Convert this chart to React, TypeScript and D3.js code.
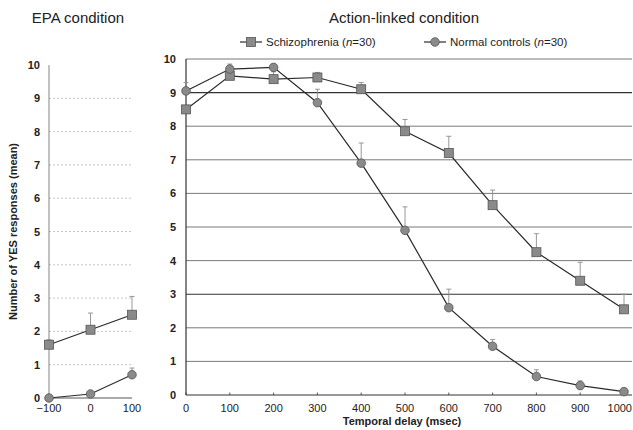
import React from "react";
import * as d3 from "d3";

// EPA condition (left panel)
const epaDelays = [-100, 0, 100];
const epaSchizo = [1.6, 2.05, 2.5];
const epaSchizoErr = [1.75, 2.55, 3.05];
const epaNormal = [0, 0.12, 0.7];
const epaNormalErr = [0.05, 0.2, 0.9];

// Action-linked condition (right panel)
const delays = [0, 100, 200, 300, 400, 500, 600, 700, 800, 900, 1000];
const schizo = [8.5, 9.5, 9.4, 9.45, 9.1, 7.85, 7.2, 5.65, 4.25, 3.4, 2.55];
const schizoErr = [8.6, 9.7, 9.62, 9.6, 9.3, 8.2, 7.7, 6.1, 4.8, 3.95, 3.0];
const normal = [9.05, 9.7, 9.75, 8.7, 6.9, 4.9, 2.6, 1.45, 0.55, 0.28, 0.1];
const normalErr = [9.3, 9.85, 9.82, 9.1, 7.5, 5.6, 3.15, 1.65, 0.75, 0.42, 0.15];

const yTicks = [0, 1, 2, 3, 4, 5, 6, 7, 8, 9, 10];

const font = "'Liberation Sans', Arial, sans-serif";
const lineCol = "#2a2a2a";
const markFill = "#8a8a8a";

const Square = ({ x, y }: { x: number; y: number }) => (
  <rect x={x - 4.5} y={y - 4.5} width={9} height={9} fill={markFill} stroke="#555" strokeWidth={0.8} />
);
const Dot = ({ x, y }: { x: number; y: number }) => (
  <circle cx={x} cy={y} r={4.3} fill={markFill} stroke="#555" strokeWidth={0.8} />
);

const ErrBar = ({ x, y0, y1 }: { x: number; y0: number; y1: number }) => (
  <g stroke="#8c8c8c" strokeWidth={0.9}>
    <line x1={x} x2={x} y1={y0} y2={y1} />
    <line x1={x - 2.5} x2={x + 2.5} y1={y1} y2={y1} />
  </g>
);

export default function App() {
  // left panel scales
  const lx = d3.scaleLinear().domain([-100, 100]).range([49, 132]);
  const ly = d3.scaleLinear().domain([0, 10]).range([398, 65]);
  // right panel scales
  const rx = d3.scaleLinear().domain([0, 1000]).range([186, 624]);
  const ry = d3.scaleLinear().domain([0, 10]).range([395, 59]);

  const lLine = (vals: number[]) =>
    d3.line<number>().x((_, i) => lx(epaDelays[i])).y((d) => ly(d))(vals) || "";
  const rLine = (vals: number[]) =>
    d3.line<number>().x((_, i) => rx(delays[i])).y((d) => ry(d))(vals) || "";

  return (
    <svg width={633} height={430} style={{ position: "absolute", left: 0, top: 0, background: "#fff" }} fontFamily={font}>
      {/* titles */}
      <text x={78} y={23} textAnchor="middle" fontSize={15} fill="#222">EPA condition</text>
      <text x={404} y={23} textAnchor="middle" fontSize={15} fill="#222">Action-linked condition</text>

      {/* legend */}
      <g>
        <line x1={240} x2={262} y1={42} y2={42} stroke={lineCol} strokeWidth={1.2} />
        <Square x={251} y={42} />
        <text x={266} y={46} fontSize={11.5} fill="#222">
          Schizophrenia (<tspan fontStyle="italic">n</tspan>=30)
        </text>
        <line x1={424} x2={446} y1={42} y2={42} stroke={lineCol} strokeWidth={1.2} />
        <Dot x={435} y={42} />
        <text x={450} y={46} fontSize={11.5} fill="#222">
          Normal controls (<tspan fontStyle="italic">n</tspan>=30)
        </text>
      </g>

      {/* y axis label */}
      <text
        transform={`translate(17,${ly(5)}) rotate(-90)`}
        textAnchor="middle"
        fontSize={11}
        fontWeight="bold"
        fill="#222"
      >
        Number of YES responses (mean)
      </text>

      {/* LEFT PANEL */}
      <g>
        {yTicks.slice(1, 10).map((t) => (
          <line key={t} x1={lx(-100)} x2={lx(100)} y1={ly(t)} y2={ly(t)} stroke="#b5b5b5" strokeWidth={0.8} strokeDasharray="2,2" />
        ))}
        <line x1={lx(-100)} x2={lx(-100)} y1={ly(0)} y2={ly(10)} stroke="#777" strokeWidth={0.9} />
        <line x1={lx(-100)} x2={lx(100)} y1={ly(0)} y2={ly(0)} stroke="#555" strokeWidth={1} />
        {yTicks.map((t) => (
          <text key={t} x={lx(-100) - 9} y={ly(t) + 4} textAnchor="end" fontSize={11} fontWeight="bold" fill="#222">{t}</text>
        ))}
        {epaDelays.map((d) => (
          <text key={d} x={lx(d)} y={412} textAnchor="middle" fontSize={11} fill="#222">{d === -100 ? "\u2212100" : d}</text>
        ))}
        {epaDelays.map((d, i) => (
          <ErrBar key={"se" + d} x={lx(d)} y0={ly(epaSchizo[i])} y1={ly(epaSchizoErr[i])} />
        ))}
        {epaDelays.map((d, i) => (
          <ErrBar key={"ne" + d} x={lx(d)} y0={ly(epaNormal[i])} y1={ly(epaNormalErr[i])} />
        ))}
        <path d={lLine(epaSchizo)} fill="none" stroke={lineCol} strokeWidth={1.2} />
        <path d={lLine(epaNormal)} fill="none" stroke={lineCol} strokeWidth={1.2} />
        {epaDelays.map((d, i) => <Square key={"s" + d} x={lx(d)} y={ly(epaSchizo[i])} />)}
        {epaDelays.map((d, i) => <Dot key={"n" + d} x={lx(d)} y={ly(epaNormal[i])} />)}
      </g>

      {/* RIGHT PANEL */}
      <g>
        {yTicks.slice(1).map((t) => (
          <line key={t} x1={rx(0)} x2={rx(1000) + 8} y1={ry(t)} y2={ry(t)} stroke={t === 9 || t === 3 ? "#333" : "#6a6a6a"} strokeWidth={t === 9 || t === 3 ? 1.1 : 0.9} />
        ))}
        <line x1={rx(0)} x2={rx(0)} y1={ry(0)} y2={ry(10)} stroke="#333" strokeWidth={1.2} />
        <line x1={rx(0)} x2={rx(1000) + 8} y1={ry(0)} y2={ry(0)} stroke="#333" strokeWidth={1.1} />
        {delays.map((d) => (
          <line key={"t" + d} x1={rx(d)} x2={rx(d)} y1={ry(0)} y2={ry(0) - 2.5} stroke="#333" strokeWidth={0.8} />
        ))}
        {yTicks.map((t) => (
          <text key={t} x={rx(0) - 10} y={ry(t) + 4} textAnchor="end" fontSize={11} fontWeight="bold" fill="#222">{t}</text>
        ))}
        {delays.map((d) => (
          <text
            key={d}
            x={d === 1000 ? 632 : rx(d)}
            y={412}
            textAnchor={d === 1000 ? "end" : "middle"}
            fontSize={11}
            fill="#222"
          >
            {d}
          </text>
        ))}
        <text x={rx(500) - 3} y={425} textAnchor="middle" fontSize={11} fontWeight="bold" fill="#222">Temporal delay (msec)</text>

        {delays.map((d, i) => (
          <ErrBar key={"se" + d} x={rx(d)} y0={ry(schizo[i])} y1={ry(schizoErr[i])} />
        ))}
        {delays.map((d, i) => (
          <ErrBar key={"ne" + d} x={rx(d)} y0={ry(normal[i])} y1={ry(normalErr[i])} />
        ))}
        <path d={rLine(schizo)} fill="none" stroke={lineCol} strokeWidth={1.2} />
        <path d={rLine(normal)} fill="none" stroke={lineCol} strokeWidth={1.2} />
        {delays.map((d, i) => <Square key={"s" + d} x={rx(d)} y={ry(schizo[i])} />)}
        {delays.map((d, i) => <Dot key={"n" + d} x={rx(d)} y={ry(normal[i])} />)}
      </g>
    </svg>
  );
}
